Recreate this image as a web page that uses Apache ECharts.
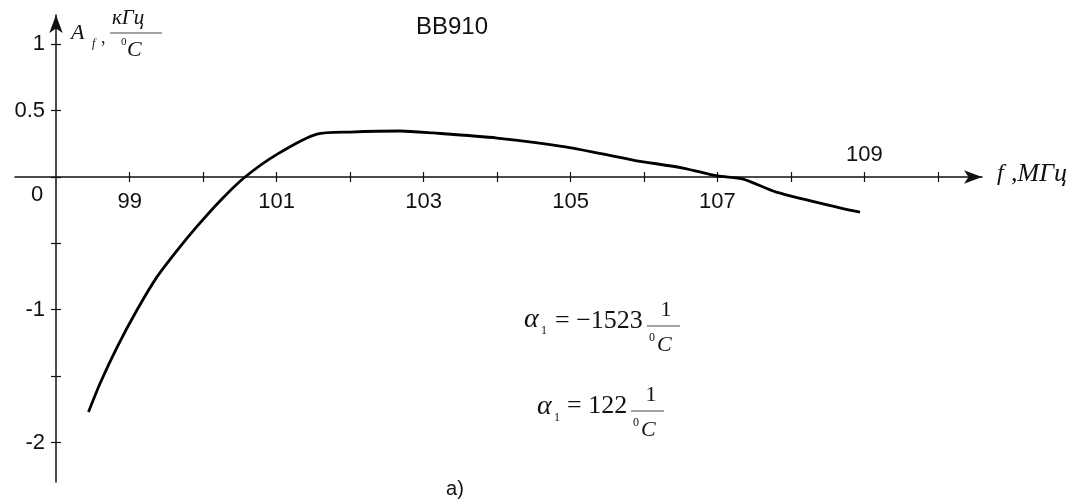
<!DOCTYPE html>
<html><head><meta charset="utf-8">
<script src="https://cdn.jsdelivr.net/npm/echarts@6/dist/echarts.min.js"></script>
<style>html,body{margin:0;padding:0;background:#fff}#c{width:1079px;height:502px}</style>
</head><body><div id="c"></div>
<script>
// Frequency, MHz
const freq = [98.44, 98.6, 98.83, 99.1, 99.37, 99.65, 99.92, 100.23, 100.57, 101.01, 101.55, 102.0, 102.68, 103.13, 104.0, 104.95, 105.85, 106.53, 107.0, 107.35, 107.8, 108.8, 108.94];
// A_f, kHz/°C
const coef = [-1.771, -1.552, -1.281, -1.002, -0.754, -0.55, -0.37, -0.18, 0, 0.173, 0.324, 0.339, 0.347, 0.332, 0.294, 0.226, 0.128, 0.068, 0.008, -0.015, -0.113, -0.249, -0.264];
const xTicks = [99, 100, 101, 102, 103, 104, 105, 106, 107, 108, 109, 110];
const xLabelsBelow = [99, 101, 103, 105, 107];
const xLabelsAbove = [109];
const yTicks = [-2, -1.5, -1, -0.5, 0, 0.5, 1];
const yLabels = [-2, -1, 0.5, 1];
const title = 'BB910';

const chart = echarts.init(document.getElementById('c'), null, {renderer: 'canvas'});
const X_MIN = 97.44, X_MAX = 110.6, Y_MIN = -2.298, Y_MAX = 1.221;
const sans = 'Liberation Sans, Arial, sans-serif';
const serif = 'Liberation Serif, Times New Roman, serif';
const axisLineStyle = {color: '#111', width: 1.5};
const tickStyle = {color: '#111', width: 1.2};
const labelStyle = {color: '#111', fontSize: 22, fontFamily: sans};

function txt(x, y, s, size, opts) {
  opts = opts || {};
  return {type: 'text', x: x, y: y, z: 10, style: {text: s, fontSize: size, fontFamily: opts.family || serif,
    fontStyle: opts.italic ? 'italic' : 'normal', fill: '#111', textAlign: opts.align || 'left', textVerticalAlign: 'middle'}};
}
function hline(x1, x2, y) {
  return {type: 'line', z: 10, shape: {x1: x1, y1: y, x2: x2, y2: y}, style: {stroke: '#444', lineWidth: 1}};
}
const hiddenY = (gi) => ({type: 'value', gridIndex: gi, min: Y_MIN, max: Y_MAX, show: false});
const labelX = (gi, pos, vals, margin) => ({
  type: 'value', gridIndex: gi, min: X_MIN, max: X_MAX, position: pos,
  axisLine: {show: false, onZero: false}, axisTick: {show: false}, splitLine: {show: false},
  axisLabel: Object.assign({customValues: vals, margin: margin}, labelStyle)
});

chart.setOption({
  animation: false,
  backgroundColor: '#fff',
  grid: [
    {left: 15, right: 97, top: 15, bottom: 20, outerBoundsMode: 'none', containLabel: false},
    {left: 15, right: 97, top: 15, height: 162, outerBoundsMode: 'none', containLabel: false},
    {left: 15, right: 97, top: 177, bottom: 20, outerBoundsMode: 'none', containLabel: false}
  ],
  xAxis: [{
    type: 'value', gridIndex: 0, min: X_MIN, max: X_MAX, position: 'bottom',
    axisLine: {show: true, onZero: true, symbol: ['none', 'arrow'], symbolSize: [10, 18], lineStyle: axisLineStyle},
    axisTick: {show: true, customValues: xTicks, length: 5, lineStyle: tickStyle},
    axisLabel: {show: false},
    splitLine: {show: false}
  }, {
    type: 'value', gridIndex: 0, min: X_MIN, max: X_MAX, position: 'top',
    axisLine: {show: false, onZero: true},
    axisTick: {show: true, customValues: xTicks, length: 5, lineStyle: tickStyle},
    axisLabel: {show: false},
    splitLine: {show: false}
  },
  labelX(1, 'bottom', xLabelsBelow, 14),
  labelX(2, 'top', xLabelsAbove, 11)
  ],
  yAxis: [{
    type: 'value', gridIndex: 0, min: Y_MIN, max: Y_MAX, position: 'left', offset: -41,
    axisLine: {show: true, onZero: false, symbol: ['none', 'arrow'], symbolSize: [10, 18], lineStyle: axisLineStyle},
    axisTick: {show: true, customValues: yTicks, length: 5, lineStyle: tickStyle},
    axisLabel: Object.assign({customValues: yLabels, margin: 11}, labelStyle),
    splitLine: {show: false}
  }, {
    type: 'value', gridIndex: 0, min: Y_MIN, max: Y_MAX, position: 'left', offset: -41,
    axisLine: {show: false, onZero: false},
    axisTick: {show: true, inside: true, customValues: yTicks, length: 5, lineStyle: tickStyle},
    axisLabel: {show: false},
    splitLine: {show: false}
  }, hiddenY(1), hiddenY(2)],
  series: [{
    type: 'line', xAxisIndex: 0, yAxisIndex: 0,
    data: freq.map((f, i) => [f, coef[i]]),
    smooth: 0.25, showSymbol: false, symbol: 'none',
    lineStyle: {color: '#000', width: 2.8}
  }],
  graphic: [
    txt(452, 27, title, 24, {family: sans, align: 'center'}),
    txt(37, 195, '0', 22, {family: sans, align: 'center'}),
    // y-axis name
    txt(71, 33, 'A', 22, {italic: true}),
    txt(92, 44, 'f', 12, {italic: true}),
    txt(101, 38, ',', 18),
    txt(112, 18, 'кГц', 21, {italic: true}),
    hline(110, 162, 33),
    txt(121, 42, '0', 11),
    txt(127, 50, 'C', 22, {italic: true}),
    // x-axis name
    txt(997, 174, 'f', 24, {italic: true}),
    txt(1011, 174, ',МГц', 26, {italic: true}),
    // formula 1
    txt(524, 320, 'α', 28, {italic: true}),
    txt(541, 331, '1', 12),
    txt(555, 321, '= −1523', 26),
    txt(666, 310, '1', 22, {align: 'center'}),
    hline(647, 680, 326),
    txt(649, 338, '0', 12),
    txt(657, 345, 'C', 22, {italic: true}),
    // formula 2
    txt(537, 407, 'α', 28, {italic: true}),
    txt(554, 418, '1', 12),
    txt(567, 406, '= 122', 26),
    txt(651, 395, '1', 22, {align: 'center'}),
    hline(631, 664, 411),
    txt(633, 423, '0', 12),
    txt(641, 430, 'C', 22, {italic: true}),
    txt(455, 489, 'a)', 20, {family: sans, align: 'center'})
  ]
});
</script></body></html>
